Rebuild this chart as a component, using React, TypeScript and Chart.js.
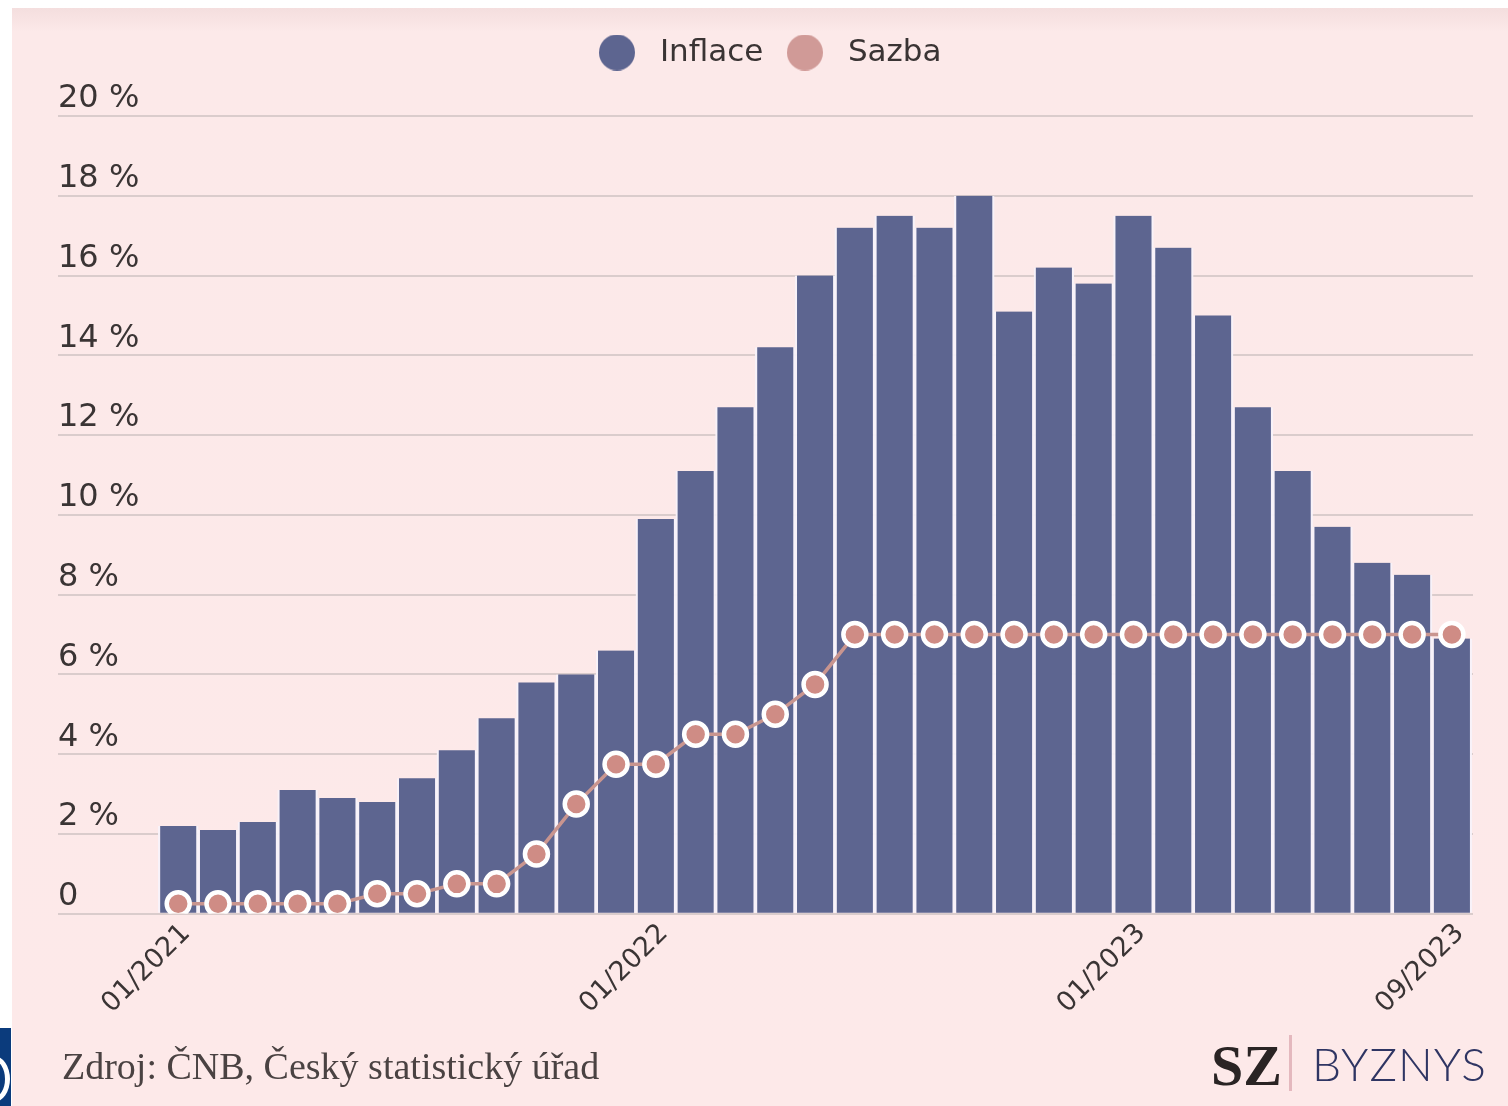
import React, { useEffect, useRef } from "react";
import { Chart, registerables } from "chart.js";

Chart.register(...registerables);

const months = [
  "01/2021", "02/2021", "03/2021", "04/2021", "05/2021", "06/2021", "07/2021", "08/2021", "09/2021", "10/2021", "11/2021", "12/2021",
  "01/2022", "02/2022", "03/2022", "04/2022", "05/2022", "06/2022", "07/2022", "08/2022", "09/2022", "10/2022", "11/2022", "12/2022",
  "01/2023", "02/2023", "03/2023", "04/2023", "05/2023", "06/2023", "07/2023", "08/2023", "09/2023",
];
const inflace = [
  2.2, 2.1, 2.3, 3.1, 2.9, 2.8, 3.4, 4.1, 4.9, 5.8, 6.0, 6.6,
  9.9, 11.1, 12.7, 14.2, 16.0, 17.2, 17.5, 17.2, 18.0, 15.1, 16.2, 15.8,
  17.5, 16.7, 15.0, 12.7, 11.1, 9.7, 8.8, 8.5, 6.9,
];
const sazba = [
  0.25, 0.25, 0.25, 0.25, 0.25, 0.5, 0.5, 0.75, 0.75, 1.5, 2.75, 3.75,
  3.75, 4.5, 4.5, 5.0, 5.75, 7.0, 7.0, 7.0, 7.0, 7.0, 7.0, 7.0,
  7.0, 7.0, 7.0, 7.0, 7.0, 7.0, 7.0, 7.0, 7.0,
];
const xTickIndexes = [0, 12, 24, 32];
const yTicks = [0, 2, 4, 6, 8, 10, 12, 14, 16, 18, 20];

const BAR = "#5d6590";
const DOT = "#cf8c85";
const LEGEND_SAZBA = "#d09a97";
const TEXT = "#3a3434";

function circleImage(color: string, d: number) {
  const c = document.createElement("canvas");
  c.width = d;
  c.height = d;
  const ctx = c.getContext("2d")!;
  ctx.fillStyle = color;
  ctx.beginPath();
  ctx.arc(d / 2, d / 2, d / 2, 0, Math.PI * 2);
  ctx.fill();
  return c;
}

const legendSpacer = {
  id: "legendSpacer",
  beforeInit(chart: any) {
    const legend = chart.legend;
    if (!legend) return;
    const orig = legend.fit;
    legend.fit = function () {
      orig.call(this);
      this.height += 38;
    };
  },
};

export default function App() {
  const ref = useRef<HTMLCanvasElement | null>(null);

  useEffect(() => {
    if (!ref.current) return;
    const imgBar = circleImage(BAR, 36);
    const imgSazba = circleImage(LEGEND_SAZBA, 36);
    const chart = new Chart(ref.current, {
      type: "bar",
      plugins: [legendSpacer],
      data: {
        datasets: [
          {
            type: "line",
            label: "Sazba",
            order: 0,
            data: sazba.map((y, i) => ({ x: i, y })),
            borderColor: "#c9958f",
            borderWidth: 3.5,
            pointRadius: 11.5,
            pointBackgroundColor: DOT,
            pointBorderColor: "#ffffff",
            pointBorderWidth: 4.5,
            tension: 0,
          } as any,
          {
            type: "bar",
            label: "Inflace",
            order: 1,
            data: inflace.map((y, i) => ({ x: i, y })),
            backgroundColor: BAR,
            borderColor: "rgba(248,242,250,0.95)",
            borderWidth: { left: 2.2, right: 2.2, top: 0, bottom: 0 },
            borderSkipped: false,
            barPercentage: 1,
            categoryPercentage: 1,
          } as any,
        ],
      },
      options: {
        animation: false,
        responsive: false,
        maintainAspectRatio: false,
        layout: { padding: { left: 46, right: 35, top: 15, bottom: 82 } },
        plugins: {
          tooltip: { enabled: false },
          legend: {
            display: true,
            position: "top",
            align: "center",
            reverse: true,
            labels: {
              usePointStyle: true,
              boxWidth: 55,
              boxHeight: 31,
              pointStyleWidth: 55,
              padding: 14,
              color: TEXT,
              font: { family: "DejaVu Sans", size: 31 },
              generateLabels: (c: any) => {
                const items = (Chart.defaults.plugins.legend.labels as any).generateLabels(c);
                return items.map((it: any) => ({
                  ...it,
                  lineWidth: 0,
                  strokeStyle: "rgba(0,0,0,0)",
                  fillStyle: it.text === "Sazba" ? LEGEND_SAZBA : BAR,
                  pointStyle: it.text === "Sazba" ? imgSazba : imgBar,
                }));
              },
            },
          },
        },
        scales: {
          x: {
            type: "linear",
            offset: false,
            min: -3.02,
            max: 32.53,
            grid: { display: false, drawTicks: false, offset: false },
            border: { display: false },
            afterBuildTicks: (axis: any) => {
              axis.ticks = xTickIndexes.map((v) => ({ value: v }));
            },
            ticks: {
              autoSkip: false,
              minRotation: 45,
              maxRotation: 45,
              padding: 4,
              labelOffset: 8,
              color: TEXT,
              font: { family: "DejaVu Sans", size: 27 },
              callback: (v: any) => months[Math.round(Number(v))],
            },
          },
          y: {
            min: 0,
            max: 20,
            afterBuildTicks: (axis: any) => {
              axis.ticks = yTicks.map((v) => ({ value: v }));
            },
            grid: { color: "rgba(190,180,180,0.55)", lineWidth: 2, drawTicks: false },
            border: { display: false },
            ticks: {
              mirror: true,
              padding: 0,
              labelOffset: -17,
              color: TEXT,
              font: { family: "DejaVu Sans", size: 32 },
              callback: (v: any) => (Number(v) === 0 ? "0" : `${v} %`),
            },
          },
        },
      },
    });
    return () => chart.destroy();
  }, []);

  return (
    <div
      style={{
        position: "absolute",
        left: 12,
        top: 8,
        width: 1496,
        height: 1098,
        background: "linear-gradient(to bottom, #f4dede 0px, #fce9e9 24px, #fde9e9 100%)",
        overflow: "hidden",
      }}
    >
      <canvas ref={ref} width={1496} height={1098} style={{ position: "absolute", left: 0, top: 0 }} />
      <div
        style={{
          position: "absolute",
          left: 50,
          top: 1036,
          fontFamily: "'Liberation Serif', serif",
          fontSize: 38,
          color: "#4a4242",
          whiteSpace: "nowrap",
        }}
      >
        Zdroj: ČNB, Český statistický úřad
      </div>
      <div
        style={{
          position: "absolute",
          left: 1199,
          top: 1024,
          fontFamily: "'Liberation Serif', serif",
          fontWeight: 700,
          fontSize: 58,
          color: "#2a2424",
          whiteSpace: "nowrap",
        }}
      >
        SZ
      </div>
      <div style={{ position: "absolute", left: 1277, top: 1027, width: 3, height: 56, background: "#e4b8be" }} />
      <div
        style={{
          position: "absolute",
          left: 1300,
          top: 1028,
          fontFamily: "Lato, sans-serif",
          fontWeight: 300,
          fontSize: 46,
          letterSpacing: 1,
          color: "#2f3563",
          whiteSpace: "nowrap",
        }}
      >
        BYZNYS
      </div>
      <div
        style={{
          position: "fixed",
          left: 0,
          top: 1028,
          width: 11,
          height: 78,
          background: "#0b3b7c",
          overflow: "hidden",
        }}
      >
        <div
          style={{
            position: "absolute",
            left: -22,
            top: 28,
            width: 22,
            height: 36,
            borderRadius: "50%",
            border: "5px solid #ffffff",
          }}
        />
      </div>
    </div>
  );
}
